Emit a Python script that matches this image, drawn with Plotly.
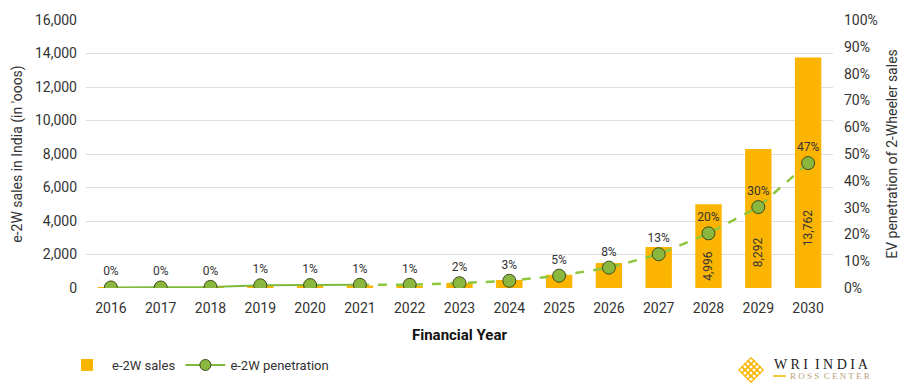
import plotly.graph_objects as go

# Financial years and projections
years = ["2016", "2017", "2018", "2019", "2020", "2021", "2022", "2023",
         "2024", "2025", "2026", "2027", "2028", "2029", "2030"]
sales = [5, 5, 20, 150, 160, 150, 140, 300, 480, 790, 1490, 2450, 4996, 8292, 13762]
penetration = [0.2, 0.2, 0.4, 1.0, 1.1, 1.2, 1.2, 1.8, 2.7, 4.6, 7.6, 12.6, 20.4, 30.2, 46.6]
labelled_bars = ["2028", "2029", "2030"]
left_ticks = [0, 2000, 4000, 6000, 8000, 10000, 12000, 14000, 16000]
right_ticks = [0, 10, 20, 30, 40, 50, 60, 70, 80, 90, 100]

FONT = "Roboto, sans-serif"
BAR = "#FBB500"
LINE = "#7FBA3C"
DASH = "#8DC63F"
MARK = "#8AB83E"
TXT = "#333333"

W, H = 905, 383
ML, MR, MT, MB = 86, 72, 20, 95
PW, PH = W - ML - MR, H - MT - MB

solid_end = years.index("2021") + 1

fig = go.Figure()

fig.add_trace(go.Bar(
    x=years, y=sales, name="e-2W sales", marker=dict(color=BAR, line=dict(width=0)),
    width=0.53, yaxis="y",
))

# solid segment for actuals, dashed for projections
fig.add_trace(go.Scatter(
    x=years[:solid_end], y=penetration[:solid_end], mode="lines",
    line=dict(color=LINE, width=2), yaxis="y2", showlegend=False, hoverinfo="skip",
))
fig.add_trace(go.Scatter(
    x=years[solid_end - 1:], y=penetration[solid_end - 1:], mode="lines",
    line=dict(color=DASH, width=2.5, dash="dash"), yaxis="y2", showlegend=False,
    hoverinfo="skip",
))
fig.add_trace(go.Scatter(
    x=years, y=penetration, mode="markers+text",
    text=[f"{round(p + 1e-9):d}%" for p in penetration],
    textposition="top center", textfont=dict(family=FONT, size=12, color=TXT),
    marker=dict(size=13, color=MARK, line=dict(color="#3B4A1E", width=1)),
    yaxis="y2", showlegend=False,
))
# legend entry for the penetration series
fig.add_trace(go.Scatter(
    x=[None], y=[None], mode="lines+markers", name="e-2W penetration",
    line=dict(color=LINE, width=2),
    marker=dict(size=11, color=MARK, line=dict(color="#3B4A1E", width=1)),
    yaxis="y2",
))


def px(xp, yp):
    return (xp - ML) / PW, (H - MB - yp) / PH


annotations = []
for idx, (yr, v) in enumerate(zip(years, sales)):
    if yr in labelled_bars:
        annotations.append(dict(
            x=idx, y=v * 0.26, xref="x", yref="y", text=f"{v:,}", textangle=-90,
            showarrow=False, font=dict(family=FONT, size=12, color=TXT),
        ))

# logo text
lx, ly = px(772, 364)
annotations.append(dict(
    x=lx, y=ly, xref="paper", yref="paper", xanchor="left", yanchor="middle",
    text="W R I  I N D I A", showarrow=False,
    font=dict(family="Liberation Serif, DejaVu Serif, serif", size=14, color="#222222"),
))
lx, ly = px(788, 376)
annotations.append(dict(
    x=lx, y=ly, xref="paper", yref="paper", xanchor="left", yanchor="middle",
    text="R O S S  C E N T E R", showarrow=False,
    font=dict(family="Liberation Serif, DejaVu Serif, serif", size=9, color="#B9A27A"),
))

shapes = []
# dash before ROSS CENTER
x0, y0 = px(773, 376)
x1, _ = px(786, 376)
shapes.append(dict(type="line", xref="paper", yref="paper", x0=x0, x1=x1, y0=y0, y1=y0,
                   line=dict(color=BAR, width=1.5)))
# lattice emblem
cx, cy, s, h = 751, 370, 3.0, 3.2
for i in range(4):
    for j in range(4):
        mx = cx + (i - j) * s
        my = cy + (i + j - 3) * s
        pts = [px(mx, my - h), px(mx + h, my), px(mx, my + h), px(mx - h, my)]
        path = "M " + " L ".join(f"{a},{b}" for a, b in pts) + " Z"
        shapes.append(dict(type="path", xref="paper", yref="paper", path=path,
                           line=dict(color=BAR, width=1.3)))

lgx, lgy = px(62, 365)

fig.update_layout(
    width=W, height=H,
    margin=dict(l=ML, r=MR, t=MT, b=MB, autoexpand=False),
    paper_bgcolor="white", plot_bgcolor="white",
    font=dict(family=FONT, size=13, color=TXT),
    bargap=0.47,
    xaxis=dict(
        type="category", range=[-0.5, len(years) - 0.5], showgrid=False, showline=False,
        ticks="", tickfont=dict(family=FONT, size=14, color=TXT), ticklabelstandoff=10,
        automargin=False,
        title=dict(text="<b>Financial Year</b>", font=dict(family=FONT, size=15, color="#111111"),
                   standoff=14),
    ),
    yaxis=dict(
        range=[0, 16000], tickvals=left_ticks, tickformat=",", showgrid=True,
        gridcolor="#DDDDDD", gridwidth=1, zeroline=False, showline=False,
        tickfont=dict(family=FONT, size=14, color=TXT), ticklabelstandoff=8,
        automargin=False,
        title=dict(text="e-2W sales in India (in 'ooos)", font=dict(family=FONT, size=14, color=TXT),
                   standoff=8),
    ),
    yaxis2=dict(
        range=[0, 100], tickvals=right_ticks, ticktext=[f"{t}%" for t in right_ticks],
        overlaying="y", side="right", showgrid=False, zeroline=False, showline=False,
        tickfont=dict(family=FONT, size=14, color=TXT), ticklabelstandoff=10,
        automargin=False,
        title=dict(text="EV penetration of 2-Wheeler sales", font=dict(family=FONT, size=14, color=TXT),
                   standoff=10),
    ),
    legend=dict(orientation="h", x=lgx, y=lgy, xanchor="left", yanchor="middle",
                font=dict(family=FONT, size=13, color=TXT), itemwidth=40,
                traceorder="normal"),
    annotations=annotations,
    shapes=shapes,
)

fig.write_html("out.html")
